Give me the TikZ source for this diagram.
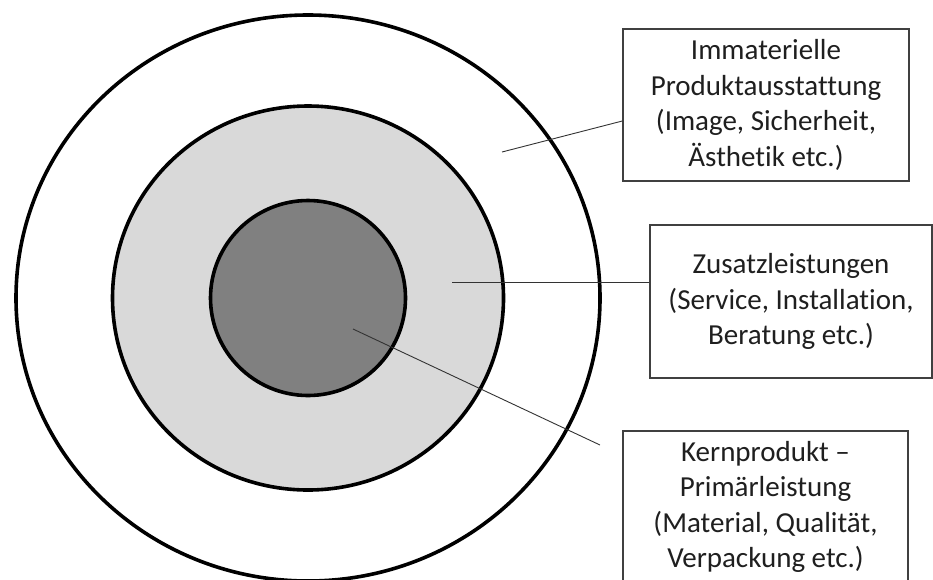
\documentclass[tikz,border=0pt]{standalone}
\usepackage{fontspec}
\setmainfont{Carlito}[Ligatures={TeX,NoCommon}]
\usetikzlibrary{positioning}

\begin{document}
\begin{tikzpicture}[x=1pt, y=-1pt,
          ring/.style={draw=black, line width=3.6pt},
          lbox/.style={draw=black!75, line width=1.4pt, fill=white, align=center,
            minimum width=286pt, minimum height=152pt, inner sep=0pt,
            font=\fontsize{29}{35.5}\selectfont, text=black!88},
          lead/.style={draw=black!80, line width=0.9pt}]
        \useasboundingbox (0,0) rectangle (933,579);
        % three rings round one centre
        \coordinate (ctr) at (308,298);
        \draw[ring, fill=white] (ctr) ellipse [x radius=292, y radius=283];
        \draw[ring, fill=black!15] (ctr) ellipse [x radius=195.5, y radius=192];
        \draw[ring, fill=black!50] (ctr) circle (97.5);
        % label boxes
        \node[lbox] (imm) at (766,105) {Immaterielle\\Produktausstattung\\(Image, Sicherheit,\\Ästhetik etc.)};
        \node[lbox, minimum width=282pt, minimum height=153pt] (zus) at (791,301.5) {Zusatzleistungen\\(Service, Installation,\\Beratung etc.)};
        \node[lbox, minimum width=285pt] (kern) at (765.5,507) {Kernprodukt –\\Primärleistung\\(Material, Qualität,\\Verpackung etc.)};
        % leader lines
        \coordinate (pimm) at (502,152);
        \coordinate (pzus) at (452,282);
        \coordinate (pkern) at (353,329);
        \coordinate (ekern) at (600,445);
        \draw[lead] (pimm) -- ([yshift=-16pt]imm.west);
        \draw[lead] (pzus) -- ([yshift=19.5pt]zus.west);
        \draw[lead] (pkern) -- (ekern);
      \end{tikzpicture}
\end{document}
